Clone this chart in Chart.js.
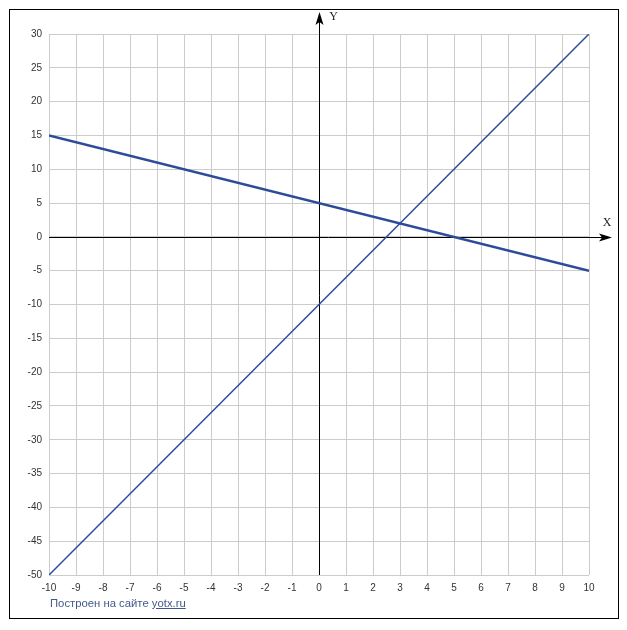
<!DOCTYPE html>
<html>
<head>
<meta charset="utf-8">
<script src="https://cdn.jsdelivr.net/npm/chart.js@4/dist/chart.umd.min.js"></script>
<style>
  html, body { margin: 0; padding: 0; background: #fff; }
  #wrap { position: relative; width: 627px; height: 630px; }
  #c { position: absolute; left: 0; top: 0; }
  #footer { position: absolute; left: 50px; top: 597px; font: 11.3px "Liberation Sans", Arial, sans-serif; color: #42598c; }
  #footer a { color: #42598c; text-decoration: underline; }
</style>
</head>
<body>
<div id="wrap">
  <canvas id="c" width="627" height="630"></canvas>
  <div id="footer">Построен на сайте <a>yotx.ru</a></div>
</div>
<script>
// Data
const xValues = [-10, 10];
const line1Y = [-50, 30];   // y = 4x - 10
const line2Y = [15, -5];    // y = -x + 5
const xRange = [-10, 10];
const yRange = [-50, 30];
const axisNames = ['X', 'Y'];

const lineColor = '#2d4b98';

const axesPlugin = {
  id: 'axesPlugin',
  beforeDraw(chart) {
    const ctx = chart.ctx;
    ctx.save();
    ctx.fillStyle = '#fff';
    ctx.fillRect(0, 0, chart.width, chart.height);
    ctx.strokeStyle = '#000';
    ctx.lineWidth = 1;
    ctx.strokeRect(9.5, 9.5, 609, 609);
    ctx.restore();
  },
  beforeDatasetsDraw(chart) {
    const ctx = chart.ctx;
    const xs = chart.scales.x, ys = chart.scales.y;
    const x0 = Math.round(xs.getPixelForValue(0)) + 0.5;
    const y0 = Math.round(ys.getPixelForValue(0)) + 0.5;
    const area = chart.chartArea;
    ctx.save();
    ctx.strokeStyle = '#000';
    ctx.fillStyle = '#000';
    ctx.lineWidth = 1;
    // vertical axis
    ctx.beginPath();
    ctx.moveTo(x0, area.bottom);
    ctx.lineTo(x0, 16);
    ctx.stroke();
    ctx.beginPath();
    ctx.moveTo(x0, 12);
    ctx.lineTo(x0 - 4, 25);
    ctx.lineTo(x0, 22);
    ctx.lineTo(x0 + 4, 25);
    ctx.closePath();
    ctx.fill();
    // horizontal axis
    ctx.beginPath();
    ctx.moveTo(area.left, y0);
    ctx.lineTo(608, y0);
    ctx.stroke();
    ctx.beginPath();
    ctx.moveTo(612, y0);
    ctx.lineTo(599, y0 - 4);
    ctx.lineTo(602, y0);
    ctx.lineTo(599, y0 + 4);
    ctx.closePath();
    ctx.fill();
    // axis names
    ctx.font = '12px "Liberation Serif", serif';
    ctx.textAlign = 'center';
    ctx.textBaseline = 'middle';
    ctx.fillStyle = '#222';
    ctx.fillText(axisNames[1], x0 + 14, 17);
    ctx.fillText(axisNames[0], 607, y0 - 15);
    ctx.restore();
  }
};

new Chart(document.getElementById('c'), {
  type: 'scatter',
  data: {
    datasets: [
      {
        data: xValues.map((x, i) => ({ x: x, y: line1Y[i] })),
        showLine: true, borderColor: lineColor, borderWidth: 1.5,
        pointRadius: 0, fill: false
      },
      {
        data: xValues.map((x, i) => ({ x: x, y: line2Y[i] })),
        showLine: true, borderColor: lineColor, borderWidth: 2.5,
        pointRadius: 0, fill: false
      }
    ]
  },
  options: {
    responsive: false,
    animation: false,
    events: [],
    layout: { padding: { left: 0, top: 34, right: 38, bottom: 0 } },
    plugins: { legend: { display: false }, tooltip: { enabled: false } },
    scales: {
      x: {
        type: 'linear', min: xRange[0], max: xRange[1],
        afterFit(s) { s.height = 55; },
        border: { display: false },
        grid: { color: '#cccccc', lineWidth: 1, drawTicks: false },
        ticks: { stepSize: 1, padding: 7, color: '#333', font: { family: '"Liberation Sans", Arial, sans-serif', size: 10 }, maxRotation: 0, autoSkip: false }
      },
      y: {
        type: 'linear', min: yRange[0], max: yRange[1],
        afterFit(s) { s.width = 49; },
        border: { display: false },
        grid: { color: '#cccccc', lineWidth: 1, drawTicks: false },
        ticks: { stepSize: 5, padding: 7, color: '#333', font: { family: '"Liberation Sans", Arial, sans-serif', size: 10 }, autoSkip: false }
      }
    }
  },
  plugins: [axesPlugin]
});
</script>
</body>
</html>
